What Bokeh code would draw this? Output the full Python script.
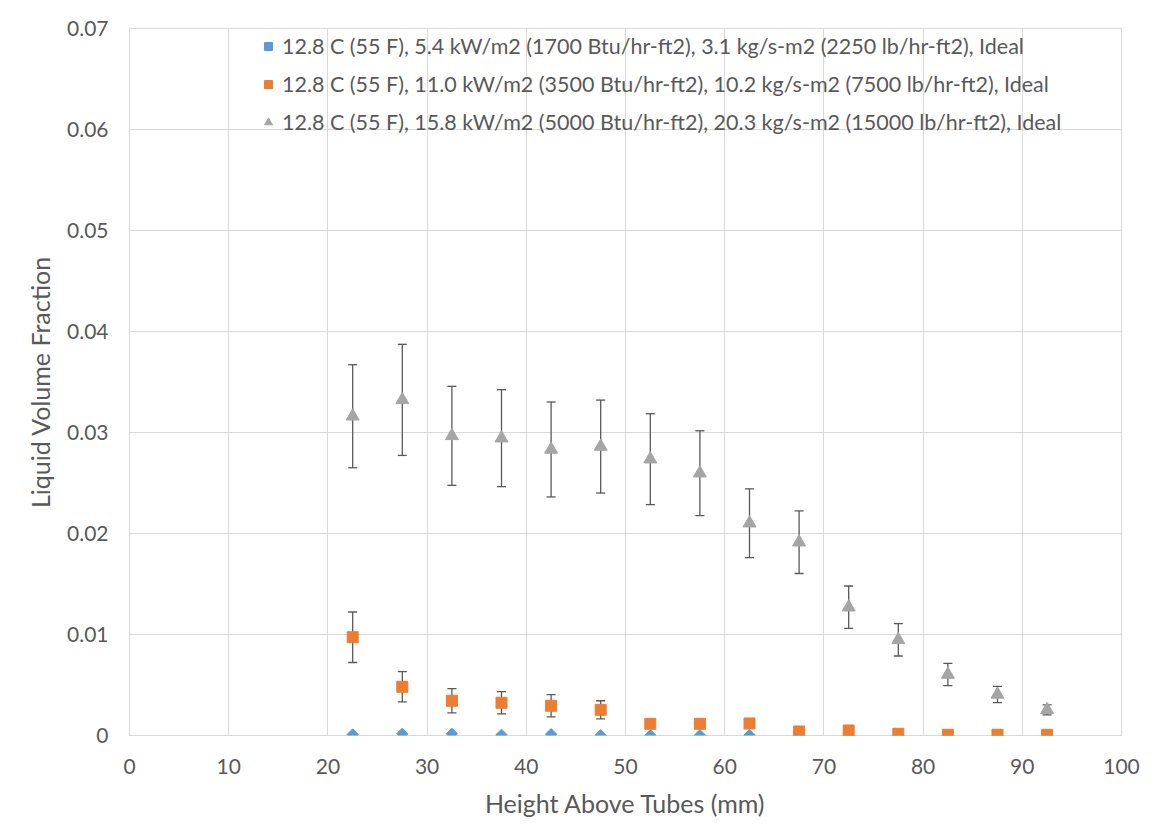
import math
from bokeh.plotting import figure
from bokeh.models import ColumnDataSource, Whisker, TeeHead, Legend, LegendItem, FixedTicker, Range1d
from bokeh.embed import file_html
from bokeh.resources import INLINE

# ---- data ----
heights = [22.5, 27.5, 32.5, 37.5, 42.5, 47.5, 52.5, 57.5, 62.5, 67.5, 72.5, 77.5, 82.5, 87.5, 92.5]

s1_label = "12.8 C (55 F), 5.4 kW/m2 (1700 Btu/hr-ft2), 3.1 kg/s-m2 (2250 lb/hr-ft2), Ideal"
s1_vals = [0.0001, 0.00017, 0.00017, 0.00007, 0.00013, 0.00003, 0.00003, 0.00003, 0.00005,
           0.00002, 0.00002, 0.00001, 0.00001, 0.00001, 0.00001]

s2_label = "12.8 C (55 F), 11.0 kW/m2 (3500 Btu/hr-ft2), 10.2 kg/s-m2 (7500 lb/hr-ft2), Ideal"
s2_vals = [0.00973, 0.00482, 0.00344, 0.00324, 0.00294, 0.00254, 0.00116, 0.00116, 0.00119,
           0.0004, 0.0005, 0.00017, 0.00007, 0.00007, 0.00007]
s2_err = [0.0025, 0.0015, 0.0012, 0.0011, 0.0011, 0.0009, 0.0, 0.0, 0.0,
          0.0, 0.0, 0.0, 0.0, 0.0, 0.0]

s3_label = "12.8 C (55 F), 15.8 kW/m2 (5000 Btu/hr-ft2), 20.3 kg/s-m2 (15000 lb/hr-ft2), Ideal"
s3_vals = [0.03161, 0.03323, 0.02967, 0.02944, 0.02832, 0.02861, 0.02736, 0.02597, 0.02102,
           0.01914, 0.0127, 0.00947, 0.00604, 0.00406, 0.00254]
s3_err = [0.0051, 0.0055, 0.0049, 0.0048, 0.0047, 0.0046, 0.0045, 0.0042, 0.0034,
          0.0031, 0.0021, 0.0016, 0.0011, 0.0008, 0.0005]

x_ticks = [0, 10, 20, 30, 40, 50, 60, 70, 80, 90, 100]
y_ticks = [0, 0.01, 0.02, 0.03, 0.04, 0.05, 0.06, 0.07]

x_title = "Height Above Tubes (mm)"
y_title = "Liquid Volume Fraction"

# ---- figure ----
FONT = "Lato"
TXT = "#595959"
GRID = "#d9d9d9"

p = figure(width=1148, height=830, output_backend="svg", toolbar_location=None,
           x_range=Range1d(0, 100), y_range=Range1d(0, 0.07),
           min_border_left=129, min_border_right=27, min_border_top=28, min_border_bottom=95,
           border_fill_color="white", background_fill_color="white")
p.outline_line_color = GRID
p.outline_line_width = 1

for ax in (p.xaxis[0], p.yaxis[0]):
    ax.axis_line_color = None
    ax.major_tick_line_color = None
    ax.minor_tick_line_color = None
    ax.major_label_text_font = FONT
    ax.major_label_text_font_size = "21px"
    ax.major_label_text_color = TXT
    ax.axis_label_text_font = FONT
    ax.axis_label_text_font_size = "25px"
    ax.axis_label_text_font_style = "normal"
    ax.axis_label_text_color = TXT

p.xaxis.ticker = FixedTicker(ticks=x_ticks)
p.yaxis.ticker = FixedTicker(ticks=y_ticks)
p.yaxis.major_label_overrides = {0: "0"}
p.xaxis.major_label_standoff = 17
p.yaxis.major_label_standoff = 15
p.xaxis.axis_label = x_title
p.yaxis.axis_label = y_title
p.xaxis.axis_label_standoff = 11
p.yaxis.axis_label_standoff = 9

p.xgrid.ticker = FixedTicker(ticks=x_ticks)
p.ygrid.ticker = FixedTicker(ticks=y_ticks)
p.xgrid.grid_line_color = GRID
p.ygrid.grid_line_color = GRID

# error bars
ERR = "#595959"
for vals, errs in ((s2_vals, s2_err), (s3_vals, s3_err)):
    xs = [h for h, e in zip(heights, errs) if e > 0]
    lo = [v - e for v, e in zip(vals, errs) if e > 0]
    hi = [v + e for v, e in zip(vals, errs) if e > 0]
    src = ColumnDataSource(dict(x=xs, lo=lo, hi=hi))
    w = Whisker(source=src, base="x", lower="lo", upper="hi", line_color=ERR, line_width=1.3,
                upper_head=TeeHead(size=9, line_color=ERR, line_width=1.3),
                lower_head=TeeHead(size=9, line_color=ERR, line_width=1.3))
    p.add_layout(w)

r1 = p.scatter(heights, s1_vals, marker="square", angle=math.pi / 4, size=8,
               fill_color="#5B9BD5", line_color="#5B9BD5")
r2 = p.scatter(heights, s2_vals, marker="square", size=11,
               fill_color="#ED7D31", line_color="#ED7D31")
r3 = p.scatter(heights, s3_vals, marker="triangle", size=13,
               fill_color="#A5A5A5", line_color="#A5A5A5")

legend = Legend(items=[LegendItem(label=s1_label, renderers=[r1]),
                       LegendItem(label=s2_label, renderers=[r2]),
                       LegendItem(label=s3_label, renderers=[r3])],
                location=(129, 600), orientation="vertical",
                background_fill_alpha=0, border_line_color=None,
                padding=0, margin=0, spacing=12,
                glyph_width=20, glyph_height=20, label_height=20,
                label_standoff=4,
                label_text_font=FONT, label_text_font_size="21.5px", label_text_color=TXT)
p.add_layout(legend)

open("out.html", "w").write(file_html(p, INLINE))
